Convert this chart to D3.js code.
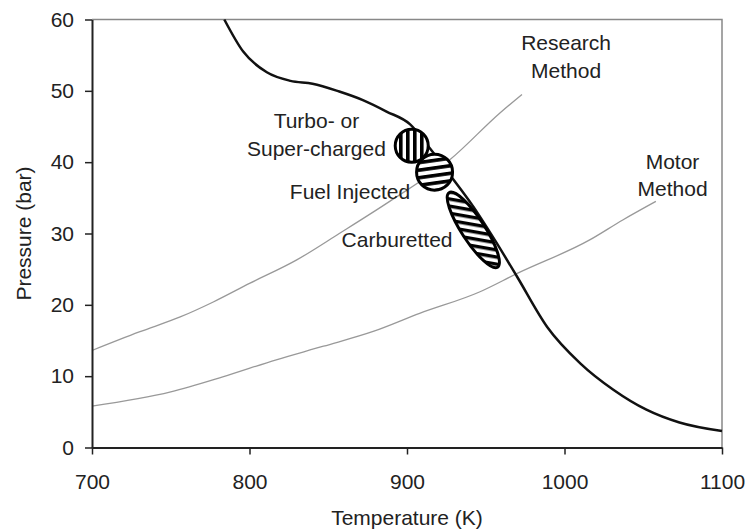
<!DOCTYPE html>
<html>
<head>
<meta charset="utf-8">
<script src="https://cdn.jsdelivr.net/npm/d3@7"></script>
<style>
  body { margin: 0; background: #fff; }
  text { font-family: "Liberation Sans", Arial, sans-serif; fill: #222; }
</style>
</head>
<body>
<div id="chart"></div>
<script>
// Knock limit curve (black)
const limitT = [784, 796, 811, 826, 840, 857, 872, 887, 902, 915, 928, 942, 956, 970, 989, 1010, 1031, 1052, 1073, 1100];
const limitP = [60, 55.5, 52.6, 51.4, 51.0, 49.9, 48.7, 47.1, 45.3, 41.8, 38.0, 33.8, 29.0, 23.9, 16.9, 11.8, 8.1, 5.3, 3.5, 2.3];

// Research method (grey)
const researchT = [700, 730, 756, 777, 800, 830, 857, 889, 927, 959, 973];
const researchP = [13.6, 16.2, 18.3, 20.4, 23.0, 26.3, 30.0, 34.5, 40.3, 46.9, 49.5];

// Motor method (grey)
const motorT = [700, 750, 783, 817, 847, 879, 908, 946, 970, 1016, 1037, 1058];
const motorP = [5.8, 7.8, 9.9, 12.3, 14.2, 16.3, 18.8, 21.8, 24.4, 29.1, 31.9, 34.5];

// operating regions: centres (T, P)
const turboCentre = [903, 42.3];
const fuelCentre = [917.5, 38.6];
// carburetted region: two ends (T, P)
const carbEnds = [[926.2, 35.9], [958, 25.1]];

const xTicks = [700, 800, 900, 1000, 1100];
const yTicks = [0, 10, 20, 30, 40, 50, 60];

// labels: [text, T, P]
const labels = [
    ["Turbo- or", 842.5, 44.75],
    ["Super-charged", 842.5, 40.8],
    ["Fuel Injected", 863.8, 34.9],
    ["Carburetted", 893.7, 28.15],
    ["Research", 1001, 55.7],
    ["Method", 1001, 51.8],
    ["Motor", 1068.6, 39.1],
    ["Method", 1068.6, 35.2]
];

const W = 748, H = 530;
const mLeft = 92, mRight = 722, mTop = 19.5, mBottom = 447.5;

const svg = d3.select('#chart')
    .append('svg')
    .attr('width', W)
    .attr('height', H);

const x = d3.scaleLinear().domain([700, 1100]).range([mLeft, mRight]);
const y = d3.scaleLinear().domain([0, 60]).range([mBottom, mTop]);

// hatch patterns
const defs = svg.append('defs');
function stripes(id, angle, gap, w) {
    const p = defs.append('pattern')
        .attr('id', id)
        .attr('patternUnits', 'userSpaceOnUse')
        .attr('width', gap)
        .attr('height', gap)
        .attr('patternTransform', `rotate(${angle})`);
    p.append('rect').attr('width', gap).attr('height', gap).attr('fill', '#fff');
    p.append('rect').attr('width', w).attr('height', gap).attr('fill', '#000');
}
stripes('vert', 0, 7, 3.6);
stripes('horz', 82, 7.5, 3.6);
stripes('diag', 43, 7, 3.4);   // drawn inside the rotated ellipse frame

// frame (top / right)
svg.append('path')
    .attr('d', `M${mLeft},${mTop}H${mRight}V${mBottom}`)
    .attr('fill', 'none')
    .attr('stroke', '#888')
    .attr('stroke-width', 1.5);

const zip = (a, b) => a.map((v, i) => [v, b[i]]);
const line = d3.line().x(d => x(d[0])).y(d => y(d[1])).curve(d3.curveMonotoneX);

// grey method lines
[zip(researchT, researchP), zip(motorT, motorP)].forEach(d => {
    svg.append('path')
        .attr('d', line(d))
        .attr('fill', 'none')
        .attr('stroke', '#999')
        .attr('stroke-width', 1.3);
});

// knock limit
svg.append('path')
    .attr('d', line(zip(limitT, limitP)))
    .attr('fill', 'none')
    .attr('stroke', '#111')
    .attr('stroke-width', 2.5);

// carburetted ellipse
const c0 = [x(carbEnds[0][0]), y(carbEnds[0][1])];
const c1 = [x(carbEnds[1][0]), y(carbEnds[1][1])];
const cx = (c0[0] + c1[0]) / 2, cy = (c0[1] + c1[1]) / 2;
const ang = Math.atan2(c1[1] - c0[1], c1[0] - c0[0]) * 180 / Math.PI;
const half = Math.hypot(c1[0] - c0[0], c1[1] - c0[1]) / 2 - 1.5;
svg.append('ellipse')
    .attr('transform', `translate(${cx},${cy}) rotate(${ang})`)
    .attr('rx', half)
    .attr('ry', 11.5)
    .attr('fill', 'url(#diag)')
    .attr('stroke', '#000')
    .attr('stroke-width', 3);

// fuel injected circle
svg.append('ellipse')
    .attr('cx', x(fuelCentre[0]))
    .attr('cy', y(fuelCentre[1]))
    .attr('rx', 18)
    .attr('ry', 18)
    .attr('fill', 'url(#horz)')
    .attr('stroke', '#000')
    .attr('stroke-width', 3);

// turbo circle
svg.append('circle')
    .attr('cx', x(turboCentre[0]))
    .attr('cy', y(turboCentre[1]))
    .attr('r', 16.5)
    .attr('fill', 'url(#vert)')
    .attr('stroke', '#000')
    .attr('stroke-width', 3);

// axes
const yAxis = svg.append('g')
    .attr('transform', `translate(${mLeft},0)`)
    .call(d3.axisLeft(y).tickValues(yTicks).tickFormat(d3.format('d'))
        .tickSize(7).tickSizeOuter(0).tickPadding(11));
const xAxis = svg.append('g')
    .attr('transform', `translate(0,${mBottom})`)
    .call(d3.axisBottom(x).tickValues(xTicks).tickFormat(d3.format('d'))
        .tickSize(7).tickSizeOuter(0).tickPadding(20));
[xAxis, yAxis].forEach(a => {
    a.select('.domain').attr('stroke', '#222').attr('stroke-width', 2);
    a.selectAll('.tick line').attr('stroke', '#222').attr('stroke-width', 1.5);
    a.selectAll('.tick text').style('font-size', '21px').attr('fill', '#222');
});

// labels
svg.append('g')
    .selectAll('text')
    .data(labels)
    .enter()
    .append('text')
    .attr('x', d => x(d[1]))
    .attr('y', d => y(d[2]))
    .attr('text-anchor', 'middle')
    .style('font-size', '21px')
    .text(d => d[0]);

// axis titles
svg.append('text')
    .attr('x', (mLeft + mRight) / 2)
    .attr('y', 525)
    .attr('text-anchor', 'middle')
    .style('font-size', '21px')
    .text('Temperature (K)');
svg.append('text')
    .attr('transform', 'rotate(-90)')
    .attr('x', -(mTop + mBottom) / 2)
    .attr('y', 31)
    .attr('text-anchor', 'middle')
    .style('font-size', '21px')
    .text('Pressure (bar)');
</script>
</body>
</html>
